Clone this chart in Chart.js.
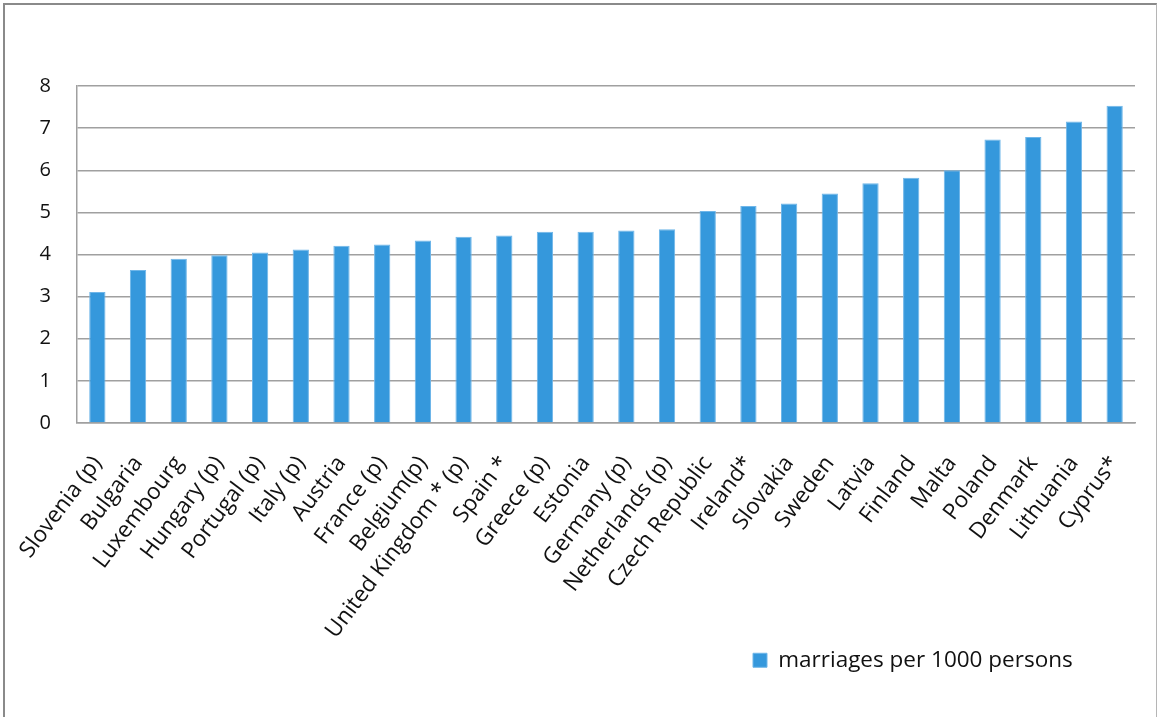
<!DOCTYPE html>
<html>
<head>
<meta charset="utf-8">
<script src="https://cdn.jsdelivr.net/npm/chart.js@4/dist/chart.umd.min.js"></script>
<style>
  html, body { margin: 0; padding: 0; background: #fff; }
  #wrap { position: relative; width: 1160px; height: 717px; overflow: hidden; }
  #frame { position: absolute; left: 3px; top: 3px; width: 1154px; height: 730px;
           border-left: 2px solid #8a8a8a; border-top: 2px solid #8a8a8a; border-right: 1px solid #b5b5b5; box-sizing: border-box; }
  canvas { position: absolute; left: 0; top: 0; }
</style>
</head>
<body>
<div id="wrap">
  <div id="frame"></div>
  <canvas id="c" width="1160" height="717"></canvas>
</div>
<script>
const categories = [
  "Slovenia (p)", "Bulgaria", "Luxembourg", "Hungary (p)", "Portugal (p)", "Italy (p)",
  "Austria", "France (p)", "Belgium(p)", "United Kingdom * (p)", "Spain *", "Greece (p)",
  "Estonia", "Germany (p)", "Netherlands (p)", "Czech Republic", "Ireland*", "Slovakia",
  "Sweden", "Latvia", "Finland", "Malta", "Poland", "Denmark", "Lithuania", "Cyprus*"
];
const marriagesPer1000 = [
  3.11, 3.63, 3.90, 3.98, 4.05, 4.12,
  4.21, 4.24, 4.33, 4.42, 4.45, 4.54,
  4.54, 4.57, 4.60, 5.03, 5.15, 5.21,
  5.45, 5.69, 5.82, 6.00, 6.73, 6.79, 7.16, 7.53
];
const seriesLabel = "marriages per 1000 persons";
const yTicks = [0, 1, 2, 3, 4, 5, 6, 7, 8];

const FONT = "'Open Sans', 'Noto Sans', sans-serif";
const TEXT = "#111";
const GRID = "#a0a0a0";

const legendShift = {
  id: 'legendShift',
  afterUpdate(chart) {
    const lg = chart.legend;
    if (!lg || !lg.lineWidths) return;
    lg.right = 753 + lg.lineWidths[0];
    lg.adjustHitBoxes();
  }
};

new Chart(document.getElementById('c'), {
  type: 'bar',
  data: {
    labels: categories,
    datasets: [{
      label: seriesLabel,
      data: marriagesPer1000,
      backgroundColor: '#3598dc',
      borderColor: '#6fb6e9',
      borderWidth: 1,
      barPercentage: 0.4,
      categoryPercentage: 1.0
    }]
  },
  options: {
    responsive: false,
    devicePixelRatio: 1,
    animation: false,
    layout: { padding: { left: 0, right: 25, top: 86, bottom: 35.5 } },
    plugins: {
      tooltip: { enabled: false },
      legend: {
        position: 'bottom',
        align: 'end',
        labels: {
          boxWidth: 14, boxHeight: 14, padding: 10,
          color: TEXT,
          font: { family: FONT, size: 22.5 }
        }
      }
    },
    scales: {
      x: {
        grid: { display: false, drawTicks: false },
        border: { display: true, color: GRID, width: 1.5 },
        ticks: {
          color: TEXT, font: { family: FONT, size: 22.5 },
          minRotation: 53, maxRotation: 53, autoSkip: false, padding: 28
        },
        afterFit(scale) { scale.height = 216; scale.paddingRight = 0; scale.paddingLeft = 0; }
      },
      y: {
        min: 0, max: 8,
        afterBuildTicks(scale) { scale.ticks = yTicks.map(v => ({ value: v })); },
        grid: { color: GRID, lineWidth: 1.5, drawTicks: false },
        border: { display: true, color: GRID, width: 1.5 },
        ticks: { color: TEXT, font: { family: FONT, size: 20 }, padding: 26 },
        afterFit(scale) { scale.width = 77; }
      }
    }
  },
  plugins: [legendShift]
});
</script>
</body>
</html>
